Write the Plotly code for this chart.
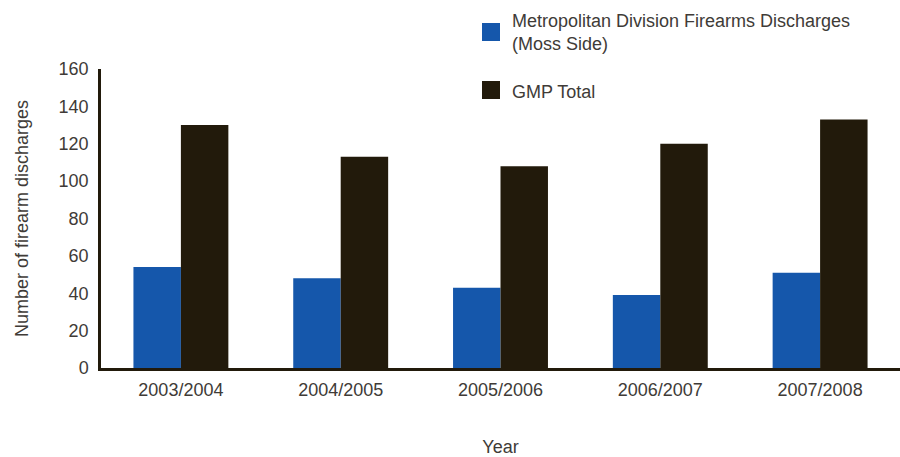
import plotly.graph_objects as go

years = ["2003/2004", "2004/2005", "2005/2006", "2006/2007", "2007/2008"]
moss_side = [54, 48, 43, 39, 51]
gmp_total = [130, 113, 108, 120, 133]
series_names = ["Metropolitan Division Firearms Discharges<br>(Moss Side)", "GMP Total"]
colors = ["#1557ab", "#221a0b"]
y_ticks = [0, 20, 40, 60, 80, 100, 120, 140, 160]

FONT = "Liberation Sans, Arial, sans-serif"
TXT = "#403b37"

W, H = 900, 457
ML, MR, MT, MB = 101, 0, 69, 89
PW, PH = W - ML - MR, H - MT - MB

def px_x(p):
    return (p - ML) / PW

def px_y(p):
    return (H - MB - p) / PH

fig = go.Figure()
fig.add_trace(go.Bar(x=years, y=moss_side, name=series_names[0], marker=dict(color=colors[0], line=dict(width=0)), showlegend=False))
fig.add_trace(go.Bar(x=years, y=gmp_total, name=series_names[1], marker=dict(color=colors[1], line=dict(width=0)), showlegend=False))

# manual legend
legend_items = [(482, 500, 23, 41, 32), (482, 500, 81, 99, 92)]
for (x0, x1, y0, y1, yc), name, col in zip(legend_items, series_names, colors):
    fig.add_shape(type="rect", xref="paper", yref="paper",
                  x0=px_x(x0), x1=px_x(x1), y0=px_y(y1), y1=px_y(y0),
                  fillcolor=col, line=dict(width=0))
    fig.add_annotation(xref="paper", yref="paper", x=px_x(510), y=px_y(yc),
                       xanchor="left", yanchor="middle", align="left",
                       text=name, showarrow=False,
                       font=dict(family=FONT, size=18, color=TXT))

fig.update_layout(
    width=W, height=H,
    margin=dict(l=ML, r=MR, t=MT, b=MB),
    paper_bgcolor="white", plot_bgcolor="white",
    barmode="group", bargap=0.406, bargroupgap=0,
    font=dict(family=FONT, size=18, color=TXT),
    showlegend=False,
)
fig.update_xaxes(
    range=[-0.5, 4.5], showgrid=False, zeroline=False,
    showline=True, linecolor="#221a0b", linewidth=2.5,
    ticks="", ticklabelstandoff=4,
    tickfont=dict(family=FONT, size=18, color=TXT),
    title=dict(text="Year", standoff=53, font=dict(family=FONT, size=18, color=TXT)),
    automargin=False,
)
fig.update_yaxes(
    range=[0, 160], tickvals=y_ticks, showgrid=False, zeroline=False,
    showline=True, linecolor="#221a0b", linewidth=2.5,
    ticks="", ticklabelstandoff=6,
    tickfont=dict(family=FONT, size=18, color=TXT),
    title=dict(text="Number of firearm discharges", standoff=26, font=dict(family=FONT, size=18, color=TXT)),
    automargin=False,
)

fig.write_html("out.html", config={"displayModeBar": False},
               post_script="document.body.style.margin='0';")
